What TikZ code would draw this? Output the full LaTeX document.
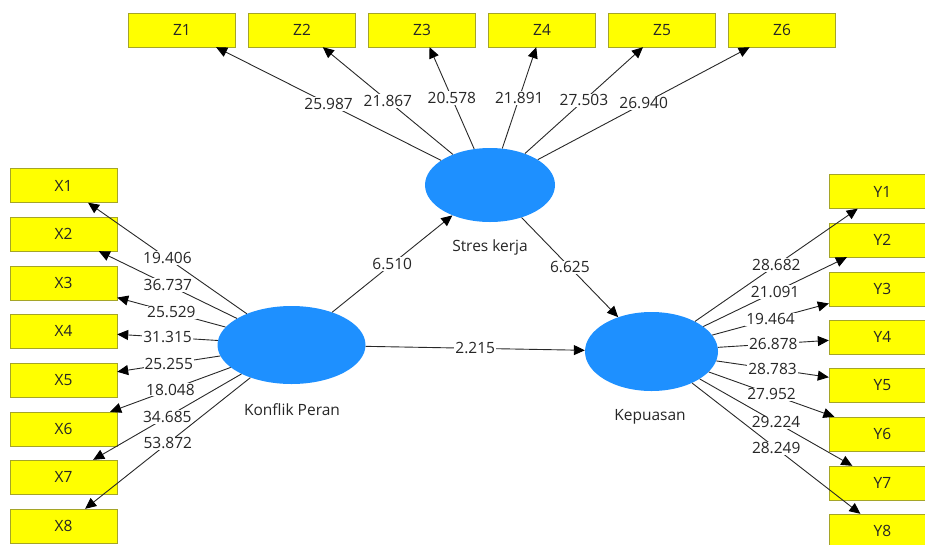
\documentclass[tikz,border=0pt]{standalone}
\usepackage{fontspec}
\setmainfont{Open Sans}
\usetikzlibrary{shapes,
	arrows.meta,
	positioning}
\definecolor{indfill}{RGB}{255,255,0}
\definecolor{indline}{RGB}{165,165,40}
\definecolor{latfill}{RGB}{30,144,255}
\definecolor{edgeline}{RGB}{40,40,40}
\tikzstyle{ind}=[draw=indline, fill=indfill, minimum width=107pt, minimum height=34pt, inner sep=0]
\tikzstyle{lat}=[ellipse, fill=latfill, inner sep=0]
\tikzstyle{load}=[draw=edgeline, line width=0.9pt, -{Triangle[length=11pt, width=10pt, color=black]}]
\tikzstyle{val}=[fill=white, inner sep=1pt, pos=0.5]

\begin{document}
\begin{tikzpicture}[x=1pt, y=-1pt, every node/.style={font=\fontsize{15.5}{18}\selectfont, text=black!85}]
        \useasboundingbox (0,0) rectangle (925,544);
        \clip (0,0) rectangle (925,544);
        % latent variables
        \node[lat, minimum width=130pt, minimum height=74pt] (sk) at (490,185) {};
        \node[lat, minimum width=148pt, minimum height=78pt] (kp) at (291.5,345) {};
        \node[lat, minimum width=133pt, minimum height=79pt] (kep) at (651.5,351.5) {};
        \node (sklab) at (490,247) {Stres kerja};
        \node (kplab) at (292,410) {Konflik Peran};
        \node (keplab) at (650,417) {Kepuasan};
        % indicators
        \node[ind] (z1) at (182,30) {Z1};
        \node[ind] (z2) at (302,30) {Z2};
        \node[ind] (z3) at (422,30) {Z3};
        \node[ind] (z4) at (542,30) {Z4};
        \node[ind] (z5) at (662,30) {Z5};
        \node[ind] (z6) at (782,30) {Z6};
        \node[ind] (x1) at (63.5,185.5) {X1};
        \node[ind] (x2) at (63.5,234) {X2};
        \node[ind] (x3) at (63.5,283) {X3};
        \node[ind] (x4) at (63.5,331) {X4};
        \node[ind] (x5) at (63.5,380) {X5};
        \node[ind] (x6) at (63.5,429) {X6};
        \node[ind] (x7) at (63.5,477) {X7};
        \node[ind] (x8) at (63.5,526) {X8};
        \node[ind] (y1) at (882.5,191.5) {Y1};
        \node[ind] (y2) at (882.5,240) {Y2};
        \node[ind] (y3) at (882.5,289) {Y3};
        \node[ind] (y4) at (882.5,337) {Y4};
        \node[ind] (y5) at (882.5,385) {Y5};
        \node[ind] (y6) at (882.5,434) {Y6};
        \node[ind] (y7) at (882.5,483) {Y7};
        \node[ind] (y8) at (882.5,531) {Y8};
        % inner model
        \draw[load] (kp) -- node[val] {6.510} (sk);
        \draw[load] (sk) -- node[val] {6.625} (kep);
        \draw[load] (kp) -- node[val] {2.215} (kep);
        % outer model
        \draw[load] (sk) -- node[val] {25.987} (z1);
        \draw[load] (sk) -- node[val] {21.867} (z2);
        \draw[load] (sk) -- node[val] {20.578} (z3);
        \draw[load] (sk) -- node[val] {21.891} (z4);
        \draw[load] (sk) -- node[val] {27.503} (z5);
        \draw[load] (sk) -- node[val] {26.940} (z6);
        \draw[load] (kp) -- node[val] {19.406} (x1);
        \draw[load] (kp) -- node[val] {36.737} (x2);
        \draw[load] (kp) -- node[val] {25.529} (x3);
        \draw[load] (kp) -- node[val] {31.315} (x4);
        \draw[load] (kp) -- node[val] {25.255} (x5);
        \draw[load] (kp) -- node[val] {18.048} (x6);
        \draw[load] (kp) -- node[val] {34.685} (x7);
        \draw[load] (kp) -- node[val] {53.872} (x8);
        \draw[load] (kep) -- node[val] {28.682} (y1);
        \draw[load] (kep) -- node[val] {21.091} (y2);
        \draw[load] (kep) -- node[val] {19.464} (y3);
        \draw[load] (kep) -- node[val] {26.878} (y4);
        \draw[load] (kep) -- node[val] {28.783} (y5);
        \draw[load] (kep) -- node[val] {27.952} (y6);
        \draw[load] (kep) -- node[val] {29.224} (y7);
        \draw[load] (kep) -- node[val] {28.249} (y8);
    \end{tikzpicture}
\end{document}
